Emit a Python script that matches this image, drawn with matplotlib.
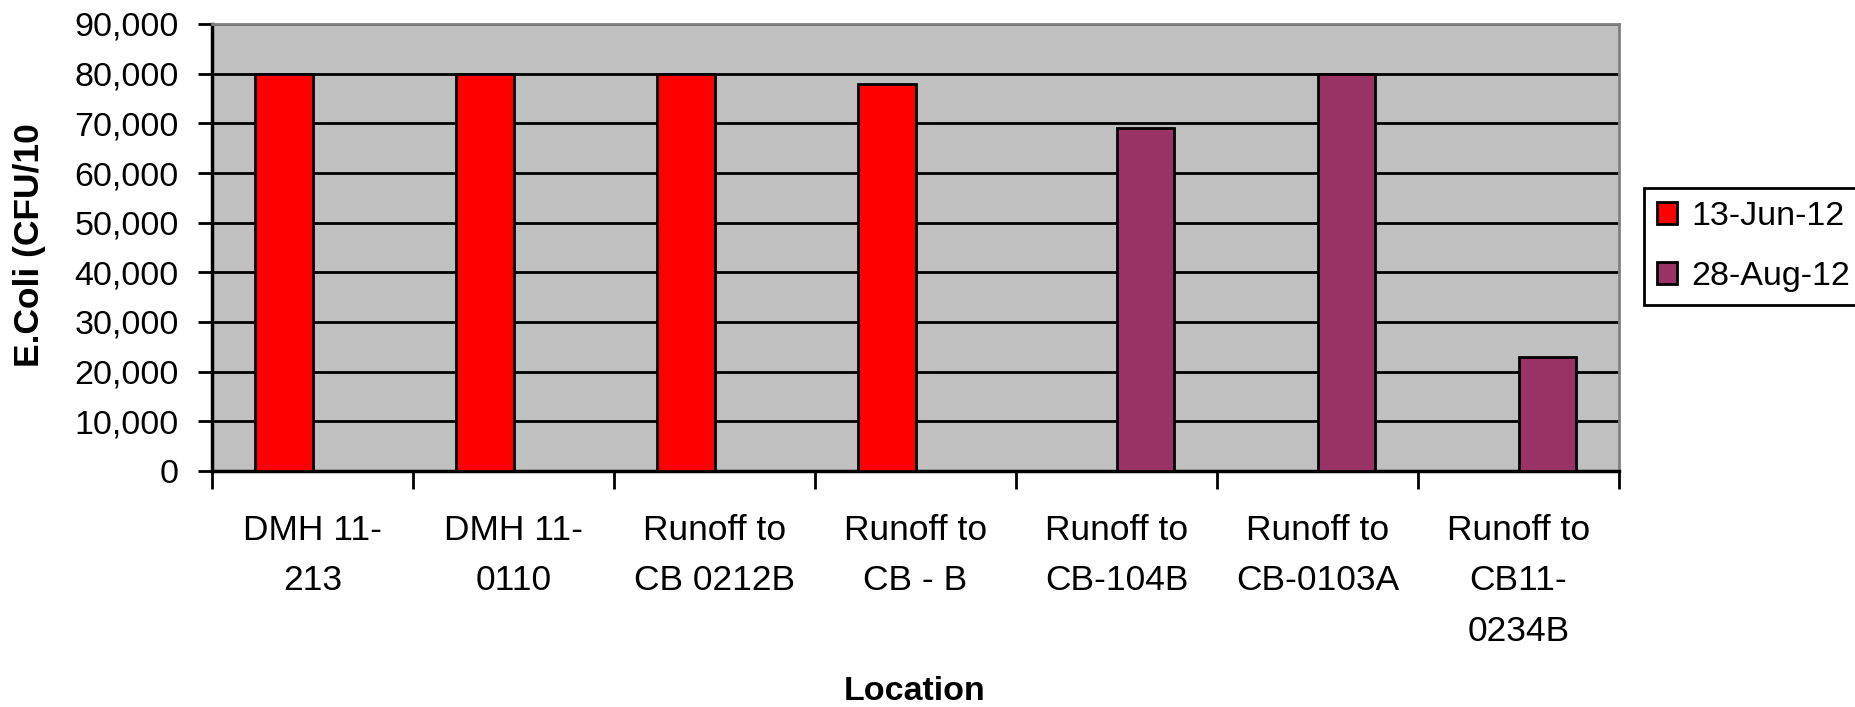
import numpy as np
import matplotlib
matplotlib.use("Agg")
import matplotlib.pyplot as plt
from matplotlib.ticker import FuncFormatter

plt.rcParams["font.family"] = ["Liberation Sans", "DejaVu Sans"]

# data
locations = ["DMH 11-\n213", "DMH 11-\n0110", "Runoff to\nCB 0212B", "Runoff to\nCB - B",
             "Runoff to\nCB-104B", "Runoff to\nCB-0103A", "Runoff to\nCB11-\n0234B"]
jun_12 = [80000, 80000, 80000, 78000, 0, 0, 0]
aug_12 = [0, 0, 0, 0, 69000, 80000, 23000]
series_names = ["13-Jun-12", "28-Aug-12"]

fig = plt.figure(figsize=(18.55, 7.07), dpi=100)
ax = fig.add_axes([212/1855, 1-471/707, 1407/1855, 447/707])
ax.set_facecolor("#C0C0C0")

x = np.arange(len(locations))
w = 1/3.5  # excel gap width 150%
jun_vals = np.where(np.array(jun_12) > 0, jun_12, np.nan)
aug_vals = np.where(np.array(aug_12) > 0, aug_12, np.nan)
ax.bar(x - w/2, jun_vals, w, color="#FF0000", edgecolor="black", linewidth=2, label=series_names[0], zorder=3)
ax.bar(x + w/2, aug_vals, w, color="#993366", edgecolor="black", linewidth=2, label=series_names[1], zorder=3)

ax.set_xlim(-0.5, len(locations) - 0.5)
ax.set_ylim(0, 90000)
ax.set_yticks(np.arange(0, 90001, 10000))
ax.yaxis.set_major_formatter(FuncFormatter(lambda v, p: f"{int(v):,}"))
ax.grid(axis="y", color="black", linewidth=2, zorder=1)

ax.set_xticks(x)
ax.set_xticklabels(locations, fontsize=25.5, linespacing=1.67)
ax.set_xticks(np.arange(-0.5, len(locations), 1), minor=True)
ax.tick_params(axis="x", which="major", length=0, pad=31)
ax.tick_params(axis="x", which="minor", length=13, width=2, direction="out")
ax.tick_params(axis="y", length=10, width=2, direction="out", labelsize=24.5, pad=14)

for s in ["left", "bottom"]:
    ax.spines[s].set_color("black")
    ax.spines[s].set_linewidth(2.5)
for s in ["top", "right"]:
    ax.spines[s].set_color("#808080")
    ax.spines[s].set_linewidth(2)

fig.text(30/1855, 1-245/707, "E.Coli (CFU/10", rotation=90, ha="center", va="center",
         fontsize=25.5, fontweight="bold")
fig.text(915/1855, 1-692/707, "Location", ha="center", va="center",
         fontsize=24.5, fontweight="bold")

leg = fig.legend(loc="upper left", bbox_to_anchor=(1644/1855, 1-188/707), borderaxespad=0,
                 fontsize=24.5, handlelength=0.6, handleheight=0.6, handletextpad=0.4,
                 borderpad=0.38, labelspacing=0.85, fancybox=False, framealpha=1)
leg.get_frame().set_edgecolor("black")
leg.get_frame().set_linewidth(2)

fig.savefig("out.png", dpi=100)
